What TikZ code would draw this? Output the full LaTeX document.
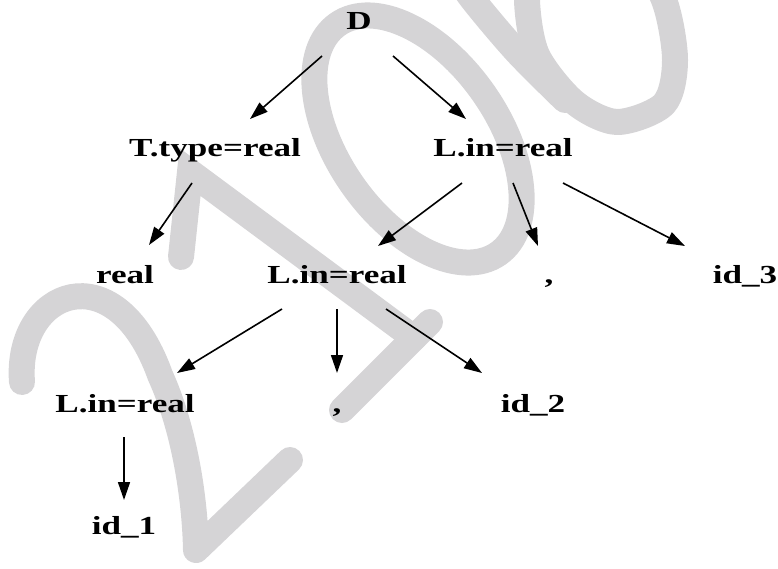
\documentclass[tikz,border=0pt]{standalone}
\usepackage{fontspec}
\setmainfont{Liberation Serif}
\usepackage{graphicx}
\usetikzlibrary{arrows.meta}
\definecolor{wmgray}{RGB}{213,212,214}
% labels are set wide
\newcommand\widetext[1]{\scalebox{1.35}[1]{#1}}

\begin{document}
\begin{tikzpicture}[x=1pt,y=-1pt,
  lbl/.style={anchor=base, inner sep=0pt, font=\fontsize{26}{30}\selectfont\bfseries},
  arr/.style={line width=1.6pt, -{Triangle[length=18pt,width=12pt]}},
  wm/.style={draw=wmgray, line width=26pt, line cap=round, line join=round}]
\useasboundingbox (0,0) rectangle (778,569);

% light grey background figures
\begin{scope}
\clip (0,0) rectangle (778,569);
% 2
\draw[wm] (22,382) .. controls (15,290) and (115,250) .. (160,375)
          .. controls (185,430) and (195,500) .. (196,550) -- (290,460);
% 4
\draw[wm, line join=miter] (181,257) -- (190,172) -- (414,338);
\draw[wm] (430,322) -- (342,410);
% 0
\draw[wm, rotate around={-55:(418,139)}] (418,139) ellipse [x radius=140, y radius=80];
% 6
\draw[wm] plot[smooth cycle] coordinates {(527,0) (537,55) (574,102) (617,122) (664,104) (675,60) (664,0) (632,-50) (575,-58) (535,-35)};
\draw[wm] plot[smooth] coordinates {(445,-40) (473,0) (517,52) (565,100)};
\end{scope}

% tree nodes
\node[lbl] (D)    at (359,30)  {\widetext{D}};
\node[lbl] (T)    at (215,157) {\widetext{T.type=real}};
\node[lbl] (L1)   at (503,157) {\widetext{L.in=real}};
\node[lbl] (R)    at (125,283) {\widetext{real}};
\node[lbl] (L2)   at (337,283) {\widetext{L.in=real}};
\node[lbl] (C1)   at (549,283) {\widetext{,}};
\node[lbl] (I3)   at (745,283) {\widetext{id\_3}};
\node[lbl] (L3)   at (125,412) {\widetext{L.in=real}};
\node[lbl] (C2)   at (337,412) {\widetext{,}};
\node[lbl] (I2)   at (533,412) {\widetext{id\_2}};
\node[lbl] (I1)   at (124,534) {\widetext{id\_1}};

% tree edges
\draw[arr] ([xshift=-37pt,yshift=-26pt]D.base) -- ([xshift=35pt,yshift=38pt]T.base);
\draw[arr] ([xshift=34pt,yshift=-26pt]D.base) -- ([xshift=-37pt,yshift=38pt]L1.base);
\draw[arr] ([xshift=-23pt,yshift=-26pt]T.base) -- ([xshift=24pt,yshift=38pt]R.base);
\draw[arr] ([xshift=-41pt,yshift=-26pt]L1.base) -- ([xshift=41pt,yshift=37pt]L2.base);
\draw[arr] ([xshift=10pt,yshift=-26pt]L1.base) -- ([xshift=-11pt,yshift=37pt]C1.base);
\draw[arr] ([xshift=60pt,yshift=-26pt]L1.base) -- ([xshift=-60pt,yshift=37pt]I3.base);
\draw[arr] ([xshift=-55pt,yshift=-26pt]L2.base) -- ([xshift=52pt,yshift=39pt]L3.base);
\draw[arr] ([yshift=-26pt]L2.base) -- ([yshift=39pt]C2.base);
\draw[arr] ([xshift=49pt,yshift=-26pt]L2.base) -- ([xshift=-51pt,yshift=39pt]I2.base);
\draw[arr] ([xshift=-1pt,yshift=-25pt]L3.base) -- ([yshift=34pt]I1.base);
\end{tikzpicture}
\end{document}
